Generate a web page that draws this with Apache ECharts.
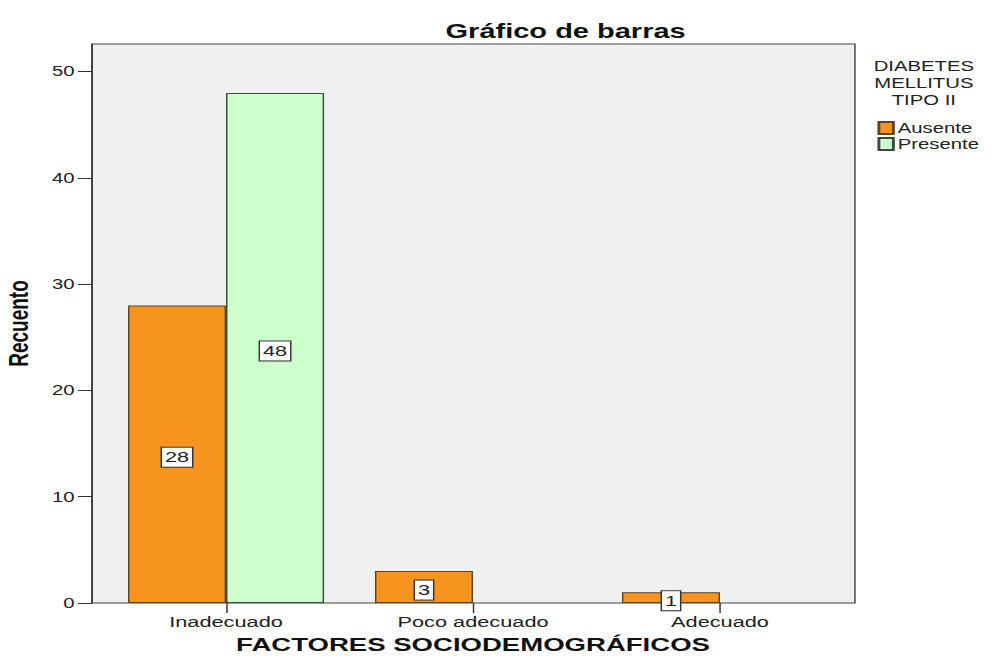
<!DOCTYPE html>
<html>
<head>
<meta charset="utf-8">
<script src="https://cdn.jsdelivr.net/npm/echarts@6/dist/echarts.min.js"></script>
<style>
  html, body { margin: 0; padding: 0; background: #fff; overflow: hidden; }
  #wrap { width: 992px; height: 662px; overflow: hidden; }
  /* the chart is laid out on a narrower canvas and widened to fill the page */
  #chart { width: 684px; height: 662px; transform: scaleX(1.4503); transform-origin: 0 0; }
</style>
</head>
<body>
<div id="wrap"><div id="chart"></div></div>
<script>
// Counts by sociodemographic factor level, split by type II diabetes status
const categories = ['Inadecuado', 'Poco adecuado', 'Adecuado'];
const ausente = [28, 3, 1];
const presente = [48, null, null];
const seriesNames = ['Ausente', 'Presente'];
const yTicks = { min: 0, max: 52.6, interval: 10 };

const FONT = '"Liberation Sans", Arial, sans-serif';

const labelStyle = {
  show: true,
  position: 'inside',
  offset: [0, 3],
  color: '#222',
  fontFamily: FONT,
  fontSize: 15,
  backgroundColor: '#fff',
  borderColor: '#333',
  borderWidth: 1,
  padding: [3, 2, 1, 2]
};

const chart = echarts.init(document.getElementById('chart'), null, { renderer: 'svg' });

chart.setOption({
  animation: false,
  backgroundColor: '#fff',
  title: [
    {
      text: 'Gráfico de barras',
      left: 385, top: 16, textAlign: 'center',
      textStyle: { fontFamily: FONT, fontSize: 20, fontWeight: 'bold', color: '#111' }
    },
    {
      text: 'DIABETES\nMELLITUS\nTIPO II',
      left: 632, top: 53, textAlign: 'center',
      textStyle: { fontFamily: FONT, fontSize: 14, fontWeight: 'normal', color: '#222', lineHeight: 17 }
    }
  ],
  legend: {
    orient: 'vertical',
    left: 600, top: 116,
    itemWidth: 10, itemHeight: 12, itemGap: 2,
    icon: 'rect',
    textStyle: { fontFamily: FONT, fontSize: 14, color: '#222', padding: [0, 0, 0, -2] },
    data: seriesNames
  },
  grid: [
    // plot frame
    { left: 63.4, right: 94.5, top: 44, bottom: 59, outerBoundsMode: 'none', containLabel: false,
      show: true, backgroundColor: '#f0f0f0', borderColor: '#444', borderWidth: 1 },
    // bar area
    { left: 70.7, right: 102.4, top: 44, bottom: 59, outerBoundsMode: 'none', containLabel: false }
  ],
  xAxis: [
    { gridIndex: 0, type: 'value', show: false },
    {
      gridIndex: 1, type: 'category', data: categories,
      axisLine: { show: false },
      axisTick: { show: true, alignWithLabel: true, length: 10, lineStyle: { color: '#333' } },
      axisLabel: { fontFamily: FONT, fontSize: 15, color: '#222', margin: 11 },
      name: 'FACTORES SOCIODEMOGRÁFICOS',
      nameLocation: 'middle', nameGap: 32,
      nameTextStyle: { fontFamily: FONT, fontSize: 19, fontWeight: 'bold', color: '#111', verticalAlign: 'top' }
    }
  ],
  yAxis: [
    {
      gridIndex: 0, type: 'value',
      min: yTicks.min, max: yTicks.max, interval: yTicks.interval,
      axisLine: { show: true, lineStyle: { color: '#333' } },
      axisTick: { show: true, length: 9.7, lineStyle: { color: '#333' } },
      axisLabel: { fontFamily: FONT, fontSize: 14, color: '#222', margin: 12, showMaxLabel: false },
      splitLine: { show: false },
      name: 'Recuento',
      nameLocation: 'middle', nameGap: 41, nameRotate: 90,
      nameTextStyle: { fontFamily: FONT, fontSize: 19, fontWeight: 'bold', color: '#111' }
    },
    {
      gridIndex: 1, type: 'value',
      min: yTicks.min, max: yTicks.max, interval: yTicks.interval,
      show: false, splitLine: { show: false }
    }
  ],
  series: [
    {
      name: seriesNames[0], type: 'bar', xAxisIndex: 1, yAxisIndex: 1,
      data: ausente, barWidth: 67.6, barGap: '0%',
      itemStyle: { color: '#f7941d', borderColor: '#5a4526', borderWidth: 1 },
      label: labelStyle
    },
    {
      name: seriesNames[1], type: 'bar', xAxisIndex: 1, yAxisIndex: 1,
      data: presente, barWidth: 67.6, barGap: '0%',
      itemStyle: { color: '#ccffcc', borderColor: '#3f4a3f', borderWidth: 1 },
      label: labelStyle
    }
  ]
});
</script>
</body>
</html>
